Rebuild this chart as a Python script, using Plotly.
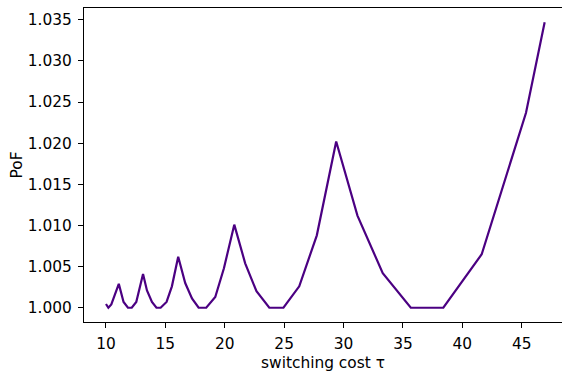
import plotly.graph_objects as go

tau = [10.0, 10.2, 10.45, 11.08, 11.48, 11.85, 12.17, 12.55, 13.12, 13.45, 13.87,
       14.25, 14.6, 15.1, 15.55, 16.08, 16.67, 17.24, 17.8, 18.44, 19.2, 19.93,
       20.8, 21.72, 22.67, 23.75, 24.94, 26.27, 27.75, 29.38, 31.17, 33.3, 35.66,
       38.4, 41.63, 45.36, 46.93]
pof = [1.00045, 1.0, 1.0004, 1.0029, 1.0007, 1.0, 1.0, 1.0007, 1.0041, 1.0021, 1.0007,
       1.0, 1.0, 1.0007, 1.0026, 1.0062, 1.0030, 1.00114, 1.0, 1.0, 1.0013, 1.0048,
       1.0101, 1.0054, 1.0020, 1.0, 1.0, 1.0026, 1.0088, 1.0202, 1.0112, 1.0042, 1.0,
       1.0, 1.0065, 1.0237, 1.0347]

x_ticks = [10, 15, 20, 25, 30, 35, 40, 45]
y_ticks = [1.000, 1.005, 1.010, 1.015, 1.020, 1.025, 1.030, 1.035]
y_tick_labels = ["1.000", "1.005", "1.010", "1.015", "1.020", "1.025", "1.030", "1.035"]

fig = go.Figure()
fig.add_trace(go.Scatter(x=tau, y=pof, mode="lines",
                         line=dict(color="#4b0082", width=2.2), showlegend=False))

font = dict(family="DejaVu Sans", size=15.4, color="black")
fig.update_layout(
    width=562, height=373,
    margin=dict(l=84, r=0, t=8, b=51),
    paper_bgcolor="white", plot_bgcolor="white",
    font=font,
    xaxis=dict(range=[8.15, 48.39], tickvals=x_ticks, ticks="outside", ticklen=5,
               tickwidth=1.1, tickcolor="black", showline=True, linecolor="black",
               linewidth=1.1, mirror=True, showgrid=False, zeroline=False,
               title=dict(text="switching cost τ", standoff=5, font=font),
               ticklabelstandoff=2, automargin=False),
    yaxis=dict(range=[0.998265, 1.036435], tickvals=y_ticks, ticktext=y_tick_labels,
               ticks="outside", ticklen=5, tickwidth=1.1, tickcolor="black",
               showline=True, linecolor="black", linewidth=1.1, mirror=False,
               showgrid=False, zeroline=False,
               title=dict(text="PoF", standoff=1, font=font),
               ticklabelstandoff=3, automargin=False),
)

fig.write_html("out.html")
